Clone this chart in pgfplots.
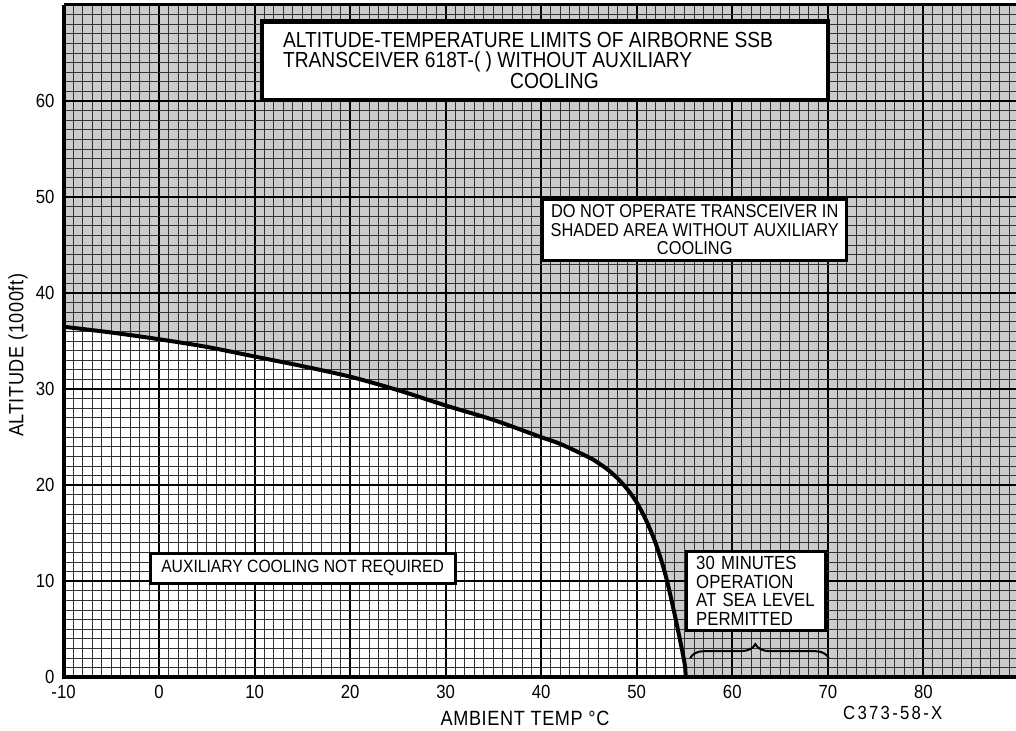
\documentclass[border=0pt]{standalone}
\usepackage{fontspec}
\setmainfont{Liberation Sans}[FakeStretch=0.88]
\usepackage{pgfplots}
\pgfplotsset{compat=1.18}
\usetikzlibrary{decorations.pathreplacing}
\begin{document}
\begin{tikzpicture}
\begin{axis}[
  set layers,
  scale only axis,
  width=476pt, height=336pt,
  xmin=-10, xmax=89.7, ymin=0, ymax=70,
  clip=false,
  axis line style={draw=none},
  xtick={-10,0,...,80}, xticklabels={-10,0,10,20,30,40,50,60,70,80},
  ytick={0,10,...,60}, yticklabels={0,10,20,30,40,50,60},
  minor xtick={-9,...,89}, minor ytick={1,...,69},
  grid=both,
  major grid style={line width=1pt, black},
  minor grid style={line width=0.5pt, black!80},
  major tick length=0pt, minor tick length=0pt,
  tick label style={font=\fontsize{9.5}{10}\selectfont},
  xticklabel style={yshift=-0.5pt},
  yticklabel style={xshift=-1pt},
  xlabel={AMBIENT TEMP °C}, ylabel={ALTITUDE (1000ft)},
  label style={font=\fontsize{10.3}{11}\selectfont\addfontfeature{LetterSpace=3}},
  xlabel style={at={(axis description cs:0.4845,-0.061)}, anchor=center},
  ylabel style={at={(axis description cs:-0.0478,0.479)}, anchor=center},
]
% shaded region (above the limit curve)
\addplot[draw=none, fill=black!20, on layer=axis background] coordinates {
(-10,36.5) (-5,35.9) (0,35.2) (5,34.4) (10,33.4) (15,32.4) (20,31.3) (25,29.9)
(30,28.3) (35,26.8) (40,25.0) (42,24.3) (45,22.9) (46,22.3) (47,21.6) (48,20.7)
(49,19.6) (50,18.2) (51,16.3) (52,13.9) (53,10.7) (54,6.4) (55,1.5) (55.1,0)
(89.7,0) (89.7,70) (-10,70)} -- cycle;
% limit curve
\addplot[line width=2pt, smooth, tension=0.5] coordinates {
(-10,36.5) (-5,35.9) (0,35.2) (5,34.4) (10,33.4) (15,32.4) (20,31.3) (25,29.9)
(30,28.3) (35,26.8) (40,25.0) (42,24.3) (45,22.9) (46,22.3) (47,21.6) (48,20.7)
(49,19.6) (50,18.2) (51,16.3) (52,13.9) (53,10.7) (54,6.4) (55,1.5) (55.1,0)};
% axis frame (left, bottom, top)
\draw[line width=2pt] (axis cs:-10,70) -- (axis cs:-10,0) -- (axis cs:89.7,0);
\draw[line width=1.5pt] (axis cs:-10,70) -- (axis cs:89.7,70);
% title box
\node[draw, line width=2.2pt, fill=white, minimum width=283pt, minimum height=39pt, inner sep=0pt] (t) at (axis cs:40.4,64.2) {};
\node[anchor=west, align=left, inner sep=0pt, font=\fontsize{10.9}{9.8}\selectfont] at ([xshift=11.5pt]t.west)
  {ALTITUDE-TEMPERATURE LIMITS OF AIRBORNE SSB\\TRANSCEIVER 618T-( ) WITHOUT AUXILIARY\\\hspace*{113.5pt}COOLING};
% warning box
\node[draw, line width=1.5pt, fill=white, minimum height=30.5pt, minimum width=151.5pt, inner xsep=4pt, inner ysep=1pt, align=center, font=\fontsize{9.3}{9.3}\selectfont] at (axis cs:56.07,46.6)
  {DO NOT OPERATE TRANSCEIVER IN\\SHADED AREA WITHOUT AUXILIARY\\COOLING};
% not required box
\node[draw, line width=1.5pt, fill=white, minimum width=152.5pt, minimum height=15pt, inner sep=0pt, font=\fontsize{8.9}{9}\selectfont] at (axis cs:15.03,11.35)
  {AUXILIARY COOLING NOT REQUIRED};
% 30 minutes box
\node[draw, line width=1.5pt, fill=white, minimum height=39.5pt, text width=59.5pt, inner xsep=5pt, inner ysep=1pt, align=left, font=\fontsize{9.5}{9.3}\selectfont] at (axis cs:62.46,9.0)
  {30 MINUTES\\OPERATION\\AT SEA LEVEL\\PERMITTED};
% brace
\draw[decorate, decoration={brace, amplitude=7pt, aspect=0.47}, line width=1pt] (axis cs:55.6,2.0) -- (axis cs:70.1,2.0);
% drawing number
\node[font=\fontsize{9.5}{10}\selectfont\addfontfeature{LetterSpace=12}] at (axis cs:76.8,-3.75) {C373-58-X};
\end{axis}
\pgfresetboundingbox
\path[use as bounding box] ([shift={(-31.75pt,-26.5pt)}]current axis.south west) rectangle ([shift={(0pt,2.5pt)}]current axis.north east);
\end{tikzpicture}
\end{document}
